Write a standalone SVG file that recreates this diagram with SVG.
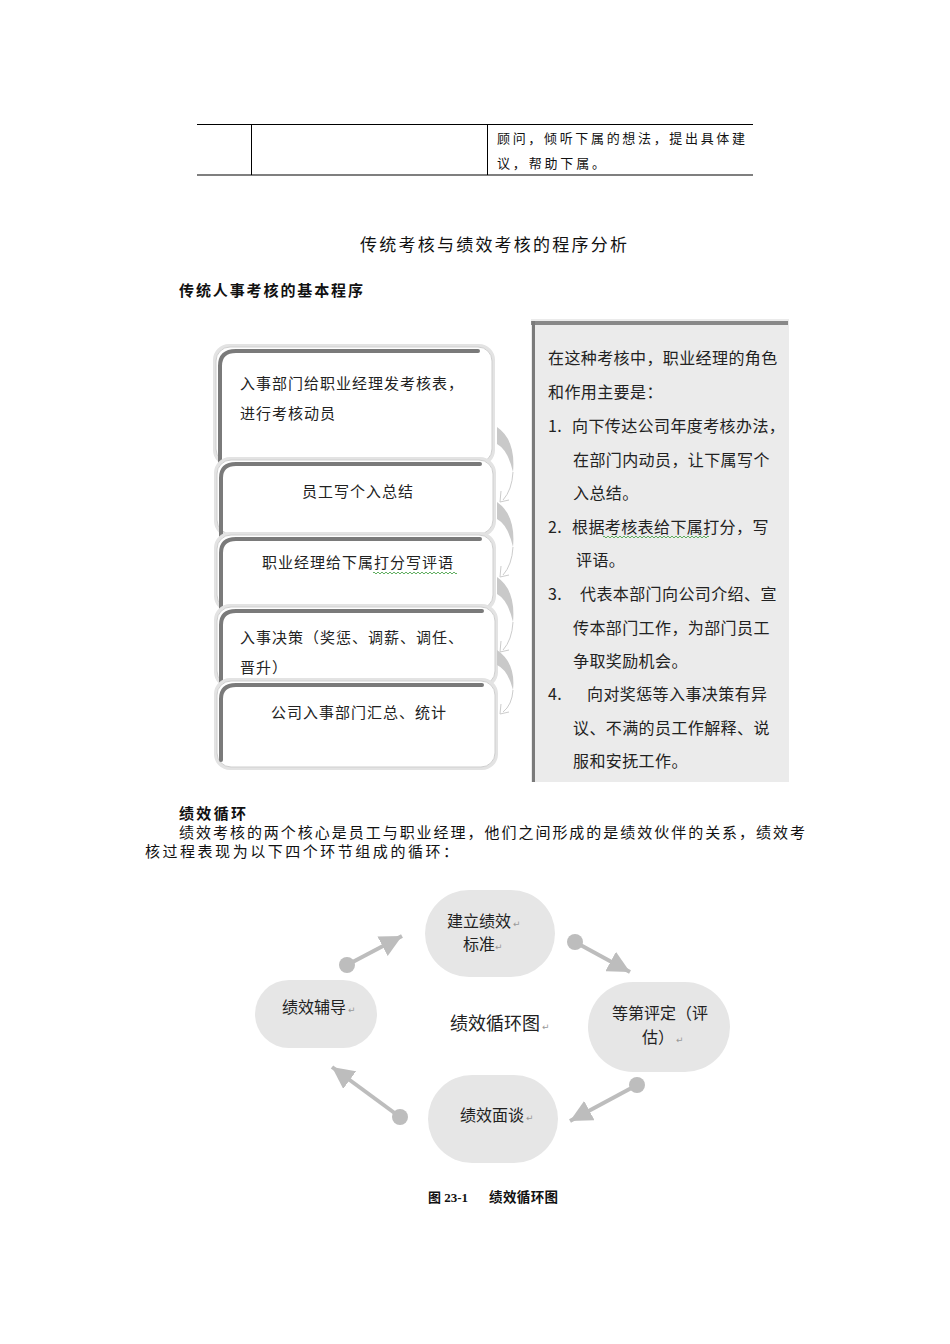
<svg xmlns="http://www.w3.org/2000/svg" width="950" height="1344" viewBox="0 0 950 1344">
<style>
.doc{font-family:"Liberation Serif","Noto Sans CJK SC",serif;fill:#111}
.cn{font-family:"Noto Sans CJK SC","Liberation Sans",sans-serif;fill:#222}
.bt{font-size:15px;letter-spacing:1px}
.pt{font-size:16px;letter-spacing:0.4px}
.ct{font-size:16px}
.pm{font-family:"DejaVu Sans",sans-serif;font-size:9px;fill:#999}
.glow{fill:#e3e3e3}
.card{fill:#fff;stroke:#cfcfcf;stroke-width:1}
.edge{fill:none;stroke:#7a7a7a;stroke-width:4;stroke-linecap:round}
.cres{fill:#c9c9c9}
.cout{fill:none;stroke:#cccccc;stroke-width:1}
.pill{fill:#e6e6e6}
.arr{stroke:#bdbdbd;stroke-width:4;fill:none}
.dot{fill:#bdbdbd}
.wavy{fill:none;stroke:#3a9a3a;stroke-width:0.8}
</style>
<defs>
<marker id="tri" viewBox="0 0 20 20" refX="20" refY="10" markerWidth="22" markerHeight="22" markerUnits="userSpaceOnUse" orient="auto">
<path d="M0,0 L20,10 L0,20 Z" fill="#bdbdbd"/>
</marker>
</defs>
<rect width="950" height="1344" fill="#fff"/>

<!-- table fragment -->
<g id="table">
<line x1="197" y1="124.5" x2="753" y2="124.5" stroke="#000" stroke-width="1"/>
<line x1="197" y1="175" x2="753" y2="175" stroke="#555" stroke-width="1.5"/>
<line x1="251.5" y1="124" x2="251.5" y2="175" stroke="#000" stroke-width="1"/>
<line x1="487.5" y1="124" x2="487.5" y2="175" stroke="#000" stroke-width="1"/>
<text class="doc" x="497" y="143" font-size="13" textLength="248" lengthAdjust="spacing">顾问，倾听下属的想法，提出具体建</text>
<text class="doc" x="497" y="168" font-size="13" textLength="108" lengthAdjust="spacing">议，帮助下属。</text>
</g>

<g id="titles">
<text class="doc" x="360" y="251" font-size="17" textLength="267" lengthAdjust="spacing">传统考核与绩效考核的程序分析</text>
<text class="doc" x="179" y="296" font-size="15" font-weight="bold" textLength="184" lengthAdjust="spacing">传统人事考核的基本程序</text>
</g>

<!-- stacked process boxes -->
<g id="box1">
<rect class="glow" x="213" y="344" width="282" height="122" rx="16"/>
<rect class="card" x="216" y="347" width="276" height="116" rx="14"/>
<path class="edge" d="M220,466 L220,366 Q220,351 236,351 L478,351"/>
<text class="cn bt" x="240" y="389">入事部门给职业经理发考核表，</text>
<text class="cn bt" x="240" y="419">进行考核动员</text>
</g>
<g id="box2">
<rect class="glow" x="214" y="457" width="282" height="80" rx="16"/>
<rect class="card" x="217" y="460" width="276" height="74" rx="14"/>
<path class="edge" d="M221,538 L221,478 Q221,464 236,464 L480,464"/>
<text class="cn bt" x="358" y="497" text-anchor="middle">员工写个入总结</text>
</g>
<g id="box3">
<rect class="glow" x="214" y="532" width="282" height="80" rx="16"/>
<rect class="card" x="217" y="535" width="276" height="74" rx="14"/>
<path class="edge" d="M221,612 L221,553 Q221,539 236,539 L480,539"/>
<text class="cn bt" x="358" y="568" text-anchor="middle">职业经理给下属打分写评语</text>
<path class="wavy" d="M373,573 q1,-2 2,0 t2,0 t2,0 t2,0 t2,0 t2,0 t2,0 t2,0 t2,0 t2,0 t2,0 t2,0 t2,0 t2,0 t2,0 t2,0 t2,0 t2,0 t2,0 t2,0 t2,0 t2,0 t2,0 t2,0 t2,0 t2,0 t2,0 t2,0 t2,0 t2,0 t2,0 t2,0 t2,0 t2,0 t2,0 t2,0 t2,0 t2,0 t2,0 t2,0 t2,0 t2,0"/>
</g>
<g id="box4">
<rect class="glow" x="214" y="604" width="284" height="84" rx="16"/>
<rect class="card" x="217" y="607" width="278" height="78" rx="14"/>
<path class="edge" d="M221,688 L221,625 Q221,611 236,611 L482,611"/>
<text class="cn bt" x="240" y="643">入事决策（奖惩、调薪、调任、</text>
<text class="cn bt" x="240" y="673">晋升）</text>
</g>
<g id="box5">
<rect class="glow" x="214" y="678" width="284" height="92" rx="16"/>
<rect class="card" x="217" y="681" width="278" height="86" rx="14"/>
<path class="edge" d="M221,760 L221,699 Q221,685 236,685 L482,685"/>
<text class="cn bt" x="359" y="718" text-anchor="middle">公司入事部门汇总、统计</text>
</g>

<!-- curved connectors between boxes -->
<g id="connectors">
<path class="cres" d="M497,427 Q516,440 513,472 Q508,450 497,444 Z"/>
<path class="cout" d="M513,472 Q512,490 503,500 M501,491 L500,502 L509,500"/>
<path class="cres" d="M497,502 Q516,515 513,547 Q508,525 497,519 Z"/>
<path class="cout" d="M513,547 Q512,565 503,575 M501,566 L500,577 L509,575"/>
<path class="cres" d="M497,577 Q516,590 513,622 Q508,600 497,594 Z"/>
<path class="cout" d="M513,622 Q512,640 503,650 M501,641 L500,652 L509,650"/>
<path class="cres" d="M497,650 Q516,663 513,690 Q508,670 497,665 Z"/>
<path class="cout" d="M513,690 Q512,705 503,712 M501,704 L500,714 L509,712"/>

<line class="arr" x1="347" y1="965" x2="402" y2="936" marker-end="url(#tri)"/>
<line class="arr" x1="575" y1="942" x2="630" y2="972" marker-end="url(#tri)"/>
<line class="arr" x1="637" y1="1085" x2="570" y2="1121" marker-end="url(#tri)"/>
<line class="arr" x1="400" y1="1117" x2="332" y2="1067" marker-end="url(#tri)"/>
<circle class="dot" cx="347" cy="965" r="8"/>
<circle class="dot" cx="575" cy="942" r="8"/>
<circle class="dot" cx="637" cy="1085" r="8"/>
<circle class="dot" cx="400" cy="1117" r="8"/>
</g>

<!-- right info panel -->
<g id="panel">
<rect x="531" y="319" width="258" height="463" fill="#ebebeb"/>
<line x1="531" y1="323" x2="788" y2="323" stroke="#888" stroke-width="4"/>
<line x1="533.5" y1="321" x2="533.5" y2="782" stroke="#7a7a7a" stroke-width="3"/>
<text class="cn pt" x="548" y="364">在这种考核中，职业经理的角色</text>
<text class="cn pt" x="548" y="398">和作用主要是：</text>
<text class="cn pt" x="548" y="432">1.</text>
<text class="cn pt" x="572" y="432">向下传达公司年度考核办法，</text>
<text class="cn pt" x="573" y="466">在部门内动员，让下属写个</text>
<text class="cn pt" x="573" y="499">入总结。</text>
<text class="cn pt" x="548" y="533">2.</text>
<text class="cn pt" x="572" y="533">根据考核表给下属打分，写</text>
<path class="wavy" d="M603,537 q1,-2 2,0 t2,0 t2,0 t2,0 t2,0 t2,0 t2,0 t2,0 t2,0 t2,0 t2,0 t2,0 t2,0 t2,0 t2,0 t2,0 t2,0 t2,0 t2,0 t2,0 t2,0 t2,0 t2,0 t2,0 t2,0 t2,0 t2,0 t2,0 t2,0 t2,0 t2,0 t2,0 t2,0 t2,0 t2,0 t2,0 t2,0 t2,0 t2,0 t2,0 t2,0 t2,0 t2,0 t2,0 t2,0 t2,0 t2,0 t2,0 t2,0 t2,0 t2,0 t2,0 t2,0"/>
<text class="cn pt" x="576" y="566">评语。</text>
<text class="cn pt" x="548" y="600">3.</text>
<text class="cn pt" x="580" y="600">代表本部门向公司介绍、宣</text>
<text class="cn pt" x="573" y="634">传本部门工作，为部门员工</text>
<text class="cn pt" x="573" y="667">争取奖励机会。</text>
<text class="cn pt" x="548" y="700">4.</text>
<text class="cn pt" x="587" y="700">向对奖惩等入事决策有异</text>
<text class="cn pt" x="573" y="734">议、不满的员工作解释、说</text>
<text class="cn pt" x="573" y="767">服和安抚工作。</text>
</g>

<g id="section2">
<text class="doc" x="179" y="819" font-size="15" font-weight="bold" textLength="67" lengthAdjust="spacing">绩效循环</text>
<text class="doc" x="179" y="838" font-size="15" textLength="626" lengthAdjust="spacing">绩效考核的两个核心是员工与职业经理，他们之间形成的是绩效伙伴的关系，绩效考</text>
<text class="doc" x="145" y="857" font-size="15" textLength="313" lengthAdjust="spacing">核过程表现为以下四个环节组成的循环：</text>
</g>

<!-- cycle nodes -->
<g id="node-top">
<rect class="pill" x="425" y="890" width="130" height="87" rx="44"/>
<text class="cn ct" x="447" y="927">建立绩效</text><text class="pm" x="513" y="927">↵</text>
<text class="cn ct" x="463" y="950">标准</text><text class="pm" x="495" y="950">↵</text>
</g>
<g id="node-right">
<rect class="pill" x="588" y="982" width="142" height="90" rx="45"/>
<text class="cn ct" x="612" y="1019">等第评定（评</text>
<text class="cn ct" x="642" y="1043">估）</text><text class="pm" x="676" y="1043">↵</text>
</g>
<g id="node-bottom">
<rect class="pill" x="428" y="1075" width="130" height="88" rx="44"/>
<text class="cn ct" x="460" y="1121">绩效面谈</text><text class="pm" x="526" y="1121">↵</text>
</g>
<g id="node-left">
<rect class="pill" x="255" y="980" width="122" height="68" rx="34"/>
<text class="cn ct" x="282" y="1013">绩效辅导</text><text class="pm" x="348" y="1013">↵</text>
</g>
<g id="center-label">
<text class="cn" x="450" y="1030" font-size="18">绩效循环图</text><text class="pm" x="542" y="1030">↵</text>
</g>

<g id="caption">
<text class="doc" x="428" y="1202" font-size="13" font-weight="bold">图 23-1</text>
<text class="doc" x="489" y="1202" font-size="13.5" font-weight="bold" textLength="69" lengthAdjust="spacing">绩效循环图</text>
</g>
</svg>
